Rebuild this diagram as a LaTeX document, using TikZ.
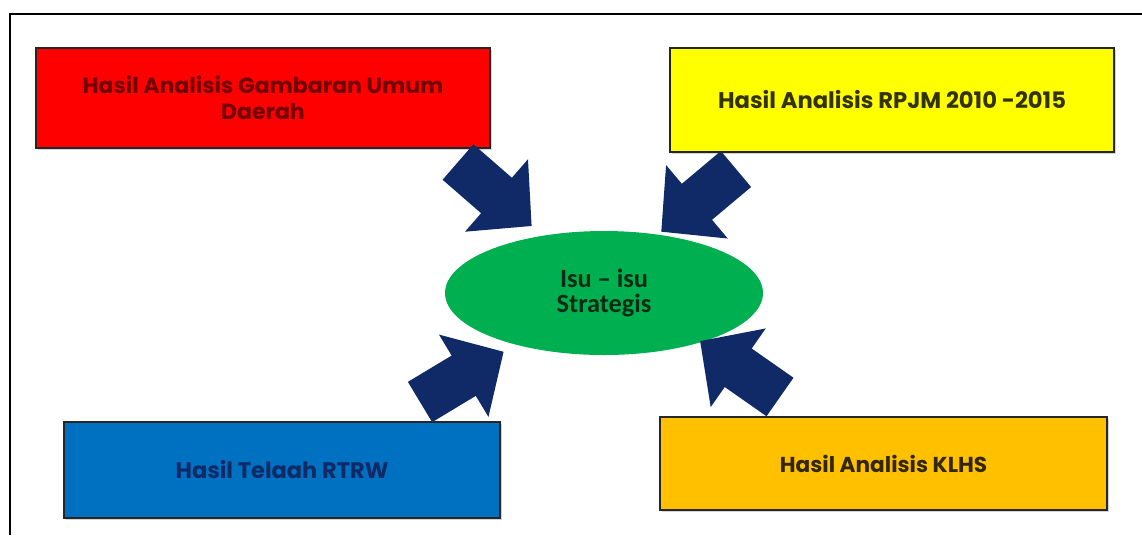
\documentclass[tikz,border=0pt]{standalone}
\usepackage{fontspec}
\usepackage{tikz}
\usetikzlibrary{shapes, shadows, positioning}
\newfontfamily\poppins{Poppins}
\newfontfamily\carlito{Carlito}
\definecolor{merah}{HTML}{FF0000}
\definecolor{kuning}{HTML}{FFFF00}
\definecolor{biru}{HTML}{0070C0}
\definecolor{jingga}{HTML}{FFC000}
\definecolor{hijau}{HTML}{00B050}
\definecolor{navy}{HTML}{0F2A66}
\tikzstyle{kotak} = [rectangle, draw=black!85, line width=0.9pt, inner sep=2pt, align=center, font=\poppins\bfseries, drop shadow={opacity=0.35, shadow xshift=1.2pt, shadow yshift=-1.2pt}]
\tikzstyle{isu} = [ellipse, fill=hijau, inner sep=0pt, align=center, text=black!75!hijau, font=\carlito\bfseries\fontsize{15}{14.5}\selectfont]
\tikzstyle{panah} = [fill=navy]
\tikzstyle{line} = [draw, line width=1.1pt]
% block arrow: tail midpoint, angle
\newcommand{\panahblok}[2]{\fill[panah, shift={(#1)}, rotate=#2] (0,-0.47) -- (1.02,-0.47) -- (1.02,-0.96) -- (1.95,0) -- (1.02,0.96) -- (1.02,0.47) -- (0,0.47) -- cycle;}

\begin{document}
\begin{tikzpicture}
	\useasboundingbox (0,0) rectangle (22.84,-10.70);
	\path [line] (22.84,-0.28) -- (0.2,-0.28) -- (0.2,-10.70);

	\node [kotak, fill=merah, text=red!45!black, minimum width=9.08cm, minimum height=2.0cm, font=\poppins\bfseries\fontsize{12.5}{14.5}\selectfont] (gambaran) at (5.26,-1.96) {Hasil Analisis Gambaran Umum\\Daerah};
	\node [kotak, fill=kuning, text=black!80!kuning, minimum width=8.88cm, minimum height=2.08cm, font=\poppins\bfseries\fontsize{12.9}{12}\selectfont] (rpjm) at (17.84,-2.0) {Hasil Analisis RPJM 2010 -2015};
	\node [kotak, fill=biru, text=navy, minimum width=8.72cm, minimum height=1.92cm, font=\poppins\bfseries\fontsize{12.8}{12}\selectfont] (rtrw) at (5.64,-9.40) {Hasil Telaah RTRW};
	\node [kotak, fill=jingga, text=black!80!jingga, minimum width=8.94cm, minimum height=1.86cm, font=\poppins\bfseries\fontsize{12.3}{12}\selectfont] (klhs) at (17.67,-9.27) {Hasil Analisis KLHS};
	\node [isu, minimum width=6.36cm, minimum height=2.48cm] (strategis) at (12.08,-5.86) {Isu – isu\\Strategis};

	\coordinate (p1) at (9.16,-3.24);
	\coordinate (p2) at (14.72,-3.38);
	\coordinate (p3) at (8.40,-8.04);
	\coordinate (p4) at (15.60,-7.94);
	\panahblok{p1}{-41}
	\panahblok{p2}{220}
	\panahblok{p3}{31}
	\panahblok{p4}{145}
\end{tikzpicture}
\end{document}
